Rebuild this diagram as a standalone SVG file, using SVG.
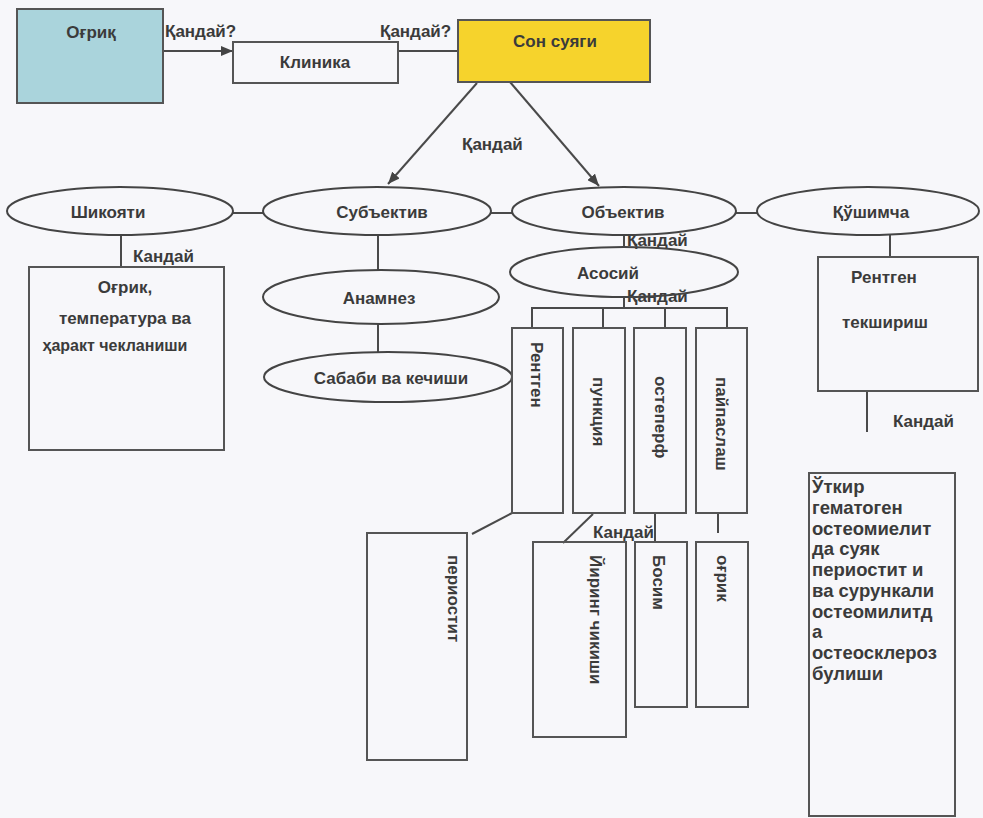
<svg xmlns="http://www.w3.org/2000/svg" width="983" height="818" viewBox="0 0 983 818">
<style>
.t{font-family:"Liberation Sans",Arial,sans-serif;font-weight:bold;font-size:17px;fill:#3b3b3b}
.m{text-anchor:middle}
.b{fill:none;stroke:#555;stroke-width:2}
.e{fill:none;stroke:#444;stroke-width:2}
.c{stroke:#4a4a4a;stroke-width:2;fill:none}
.big{font-size:18.5px}
</style>
<defs>
<marker id="ah" markerUnits="userSpaceOnUse" markerWidth="12" markerHeight="10" refX="12" refY="5" orient="auto">
<path d="M0,0 L12,5 L0,10 z" fill="#444"/>
</marker>
</defs>
<rect x="0" y="0" width="983" height="818" fill="#f7f7fa"/>

<g id="connectors">
<line class="c" x1="163" y1="51" x2="233" y2="51" marker-end="url(#ah)"/>
<line class="c" x1="398" y1="51" x2="458" y2="51"/>
<line class="c" x1="477" y1="83" x2="388" y2="184" marker-end="url(#ah)"/>
<line class="c" x1="510" y1="82" x2="599" y2="186" marker-end="url(#ah)"/>
<line class="c" x1="233" y1="213" x2="263" y2="213"/>
<line class="c" x1="491" y1="213" x2="512" y2="213"/>
<line class="c" x1="736" y1="213" x2="757" y2="213"/>
<line class="c" x1="121" y1="235" x2="121" y2="267"/>
<line class="c" x1="378" y1="235" x2="378" y2="270"/>
<line class="c" x1="378" y1="324" x2="378" y2="352"/>
<line class="c" x1="624" y1="235" x2="624" y2="247"/>
<line class="c" x1="624" y1="297" x2="624" y2="308"/>
<polyline class="c" points="532,328 532,308 727,308 727,328"/>
<line class="c" x1="603" y1="308" x2="603" y2="328"/>
<line class="c" x1="665" y1="308" x2="665" y2="328"/>
<line class="c" x1="890" y1="235" x2="890" y2="257"/>
<line class="c" x1="867" y1="391" x2="867" y2="432"/>
<line class="c" x1="512" y1="513" x2="472" y2="534"/>
<line class="c" x1="593" y1="514" x2="563" y2="543"/>
<line class="c" x1="655" y1="513" x2="655" y2="542"/>
<line class="c" x1="718" y1="513" x2="718" y2="533"/>
<text class="t" x="165" y="37">Қандай?</text>
<text class="t" x="380" y="37">Қандай?</text>
<text class="t" x="462" y="150">Қандай</text>
<text class="t" x="133" y="262">Кандай</text>
<text class="t" x="627" y="246">Қандай</text>
<text class="t" x="627" y="302">Қандай</text>
<text class="t" x="593" y="538">Кандай</text>
<text class="t" x="893" y="427">Кандай</text>
</g>

<g id="n-ogriq">
<rect x="17" y="9" width="146" height="94" fill="#aad4dc" stroke="#555" stroke-width="2"/>
<text class="t m" x="91" y="38">Оғриқ</text>
</g>
<g id="n-klinika">
<rect class="b" x="233" y="42" width="165" height="41"/>
<text class="t m" x="315" y="68">Клиника</text>
</g>
<g id="n-son">
<rect x="458" y="20" width="192" height="62" fill="#f6d32c" stroke="#555" stroke-width="2"/>
<text class="t m" x="555" y="47">Сон суяги</text>
</g>

<g id="n-shikoyati">
<ellipse class="e" cx="120" cy="211" rx="113" ry="24"/>
<text class="t m" x="108" y="218">Шикояти</text>
</g>
<g id="n-subyektiv">
<ellipse class="e" cx="377" cy="211" rx="114" ry="24"/>
<text class="t m" x="382" y="218">Субъектив</text>
</g>
<g id="n-obyektiv">
<ellipse class="e" cx="624" cy="211" rx="112" ry="24"/>
<text class="t m" x="623" y="218">Объектив</text>
</g>
<g id="n-qushimcha">
<ellipse class="e" cx="868" cy="211" rx="111" ry="24"/>
<text class="t m" x="871" y="218">Қўшимча</text>
</g>

<g id="n-ogrik-temp">
<rect class="b" x="29" y="267" width="195" height="183"/>
<text class="t m" x="125" y="293">Оғрик,</text>
<text class="t m" x="125" y="324">температура ва</text>
<text class="t m" x="115" y="351" style="font-size:16px">ҳаракт чекланиши</text>
</g>
<g id="n-anamnez">
<ellipse class="e" cx="381" cy="297" rx="118" ry="27"/>
<text class="t m" x="379" y="304">Анамнез</text>
</g>
<g id="n-sababi">
<ellipse class="e" cx="388" cy="377" rx="124" ry="25"/>
<text class="t m" x="391" y="384">Сабаби ва кечиши</text>
</g>
<g id="n-asosiy">
<ellipse class="e" cx="624" cy="272" rx="114" ry="25"/>
<text class="t m" x="608" y="279">Асосий</text>
</g>

<g id="n-rentgen-tekshirish">
<rect class="b" x="818" y="257" width="160" height="134"/>
<text class="t m" x="884" y="283">Рентген</text>
<text class="t m" x="885" y="328">текшириш</text>
</g>

<g id="n-rentgen">
<rect class="b" x="512" y="328" width="51" height="185"/>
<text class="t" transform="translate(531,342) rotate(90)">Рентген</text>
</g>
<g id="n-punksiya">
<rect class="b" x="573" y="328" width="52" height="185"/>
<text class="t" transform="translate(593,377) rotate(90)">пункция</text>
</g>
<g id="n-osteperf">
<rect class="b" x="634" y="328" width="52" height="185"/>
<text class="t" transform="translate(655,376) rotate(90)">остеперф</text>
</g>
<g id="n-paypaslash">
<rect class="b" x="696" y="328" width="51" height="185"/>
<text class="t" transform="translate(716,377) rotate(90)">пайпаслаш</text>
</g>

<g id="n-periostit">
<rect class="b" x="367" y="533" width="100" height="227"/>
<text class="t" transform="translate(448,555) rotate(90)">периостит</text>
</g>
<g id="n-yiring">
<rect class="b" x="533" y="542" width="93" height="195"/>
<text class="t" transform="translate(590,555) rotate(90)">Йиринг чикиши</text>
</g>
<g id="n-bosim">
<rect class="b" x="635" y="542" width="52" height="165"/>
<text class="t" transform="translate(653,555) rotate(90)">Босим</text>
</g>
<g id="n-ogrik2">
<rect class="b" x="696" y="542" width="52" height="165"/>
<text class="t" transform="translate(717,555) rotate(90)">оғрик</text>
</g>

<g id="n-utkir">
<rect class="b" x="809" y="473" width="146" height="343"/>
<text class="t big" x="812" y="493">Ўткир</text>
<text class="t big" x="812" y="514">гематоген</text>
<text class="t big" x="812" y="535">остеомиелит</text>
<text class="t big" x="812" y="555">да суяк</text>
<text class="t big" x="812" y="576">периостит и</text>
<text class="t big" x="812" y="597">ва сурункали</text>
<text class="t big" x="812" y="618">остеомилитд</text>
<text class="t big" x="812" y="638">а</text>
<text class="t big" x="812" y="659">остеосклероз</text>
<text class="t big" x="812" y="680">булиши</text>
</g>
</svg>
